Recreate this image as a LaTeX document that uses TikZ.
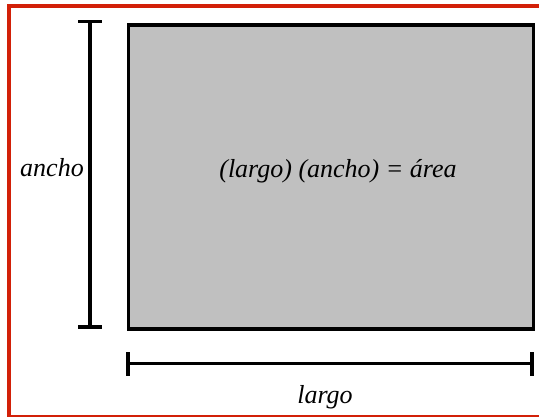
\documentclass[tikz,border=0pt]{standalone}
\usepackage{fontspec}
\setmainfont{Liberation Serif}
\definecolor{frame}{RGB}{210,32,8}
\definecolor{boxgray}{RGB}{192,192,192}
\begin{document}
\begin{tikzpicture}[x=1pt,y=-1pt,
  dimline/.style={line width=3.2pt},
  lbl/.style={font=\itshape\fontsize{26}{30}\selectfont, anchor=base, inner sep=0pt}]
\useasboundingbox (0,0) rectangle (539,417);
% red frame
\draw[frame, line width=4pt] (9,417) -- (9,6) -- (539,6);
\draw[frame, line width=1.5pt] (9,416) -- (539,416);
% gray rectangle
\node[draw=black, line width=3.2pt, fill=boxgray, minimum width=405pt, minimum height=304pt, inner sep=0pt, anchor=north west] (box) at (126.5,23.5) {};
\node[lbl] (area) at (338,178) {(largo) (ancho) = área};
% vertical dimension
\coordinate (vt) at (90,21.5);
\coordinate (vb) at (90,327);
\draw[dimline] (vt) -- (vb);
\draw[dimline] ([xshift=-12pt]vt) -- ([xshift=12pt]vt);
\draw[dimline] ([xshift=-12pt]vb) -- ([xshift=12pt]vb);
\node[lbl] (ancho) at (52,177) {ancho};
% horizontal dimension
\coordinate (hl) at (128,363.5);
\coordinate (hr) at (532,363.5);
\draw[dimline] (hl) -- (hr);
\draw[dimline] ([yshift=-12pt]hl) -- ([yshift=12pt]hl);
\draw[dimline] ([yshift=-12pt]hr) -- ([yshift=12pt]hr);
\node[lbl] (largo) at (325,403) {largo};
\end{tikzpicture}
\end{document}
